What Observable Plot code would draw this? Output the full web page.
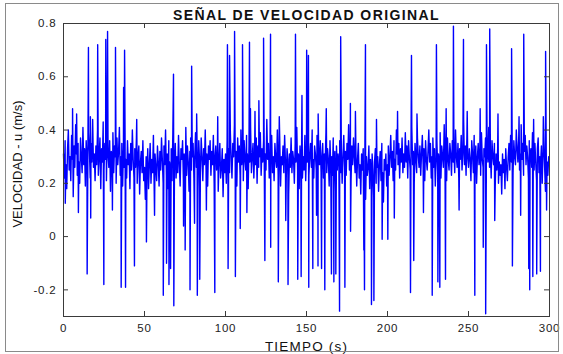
<!DOCTYPE html>
<html><head><meta charset="utf-8">
<script src="https://cdn.jsdelivr.net/npm/d3@7"></script>
<script src="https://cdn.jsdelivr.net/npm/@observablehq/plot@0.6"></script>
<style>
html,body{margin:0;padding:0;background:#fff;}
#wrap{position:relative;width:563px;height:354px;}
#border{position:absolute;left:5px;top:3px;width:552px;height:347px;border:1px solid #8a8a8a;pointer-events:none;}
</style></head>
<body><div id="wrap"><div id="border"></div></div>
<script>
const title = "SEÑAL DE VELOCIDAD ORIGINAL";
const xLabel = "TIEMPO (s)";
const yLabel = "VELOCIDAD - u (m/s)";
const xTicks = [0, 50, 100, 150, 200, 250, 300];
const yTicks = [-0.2, 0, 0.2, 0.4, 0.6, 0.8];
const dt = 0.5; // sample interval (s)

// base signal, one value every 0.5 s (rows of 10 s)
const baseValues = [
.31,.22,.36,.27,.18,.33,.40,.25,.30,.21,.38,.29,.15,.34,.26,.42,.31,.23,.35,.28,
.20,.37,.30,.24,.41,.27,.33,.19,.36,.29,.25,.39,.32,.22,.35,.28,.44,.26,.31,.21,
.34,.27,.40,.23,.30,.37,.18,.33,.28,.43,.25,.35,.29,.21,.38,.31,.26,.36,.17,.32,
.28,.39,.24,.34,.30,.20,.37,.27,.32,.41,.23,.30,.35,.19,.33,.26,.38,.29,.22,.36,
.27,.31,.18,.35,.25,.40,.29,.22,.33,.26,.37,.20,.30,.34,.16,.28,.32,.24,.36,.21,
.26,.14,.30,.22,.33,.18,.27,.35,.20,.29,.24,.38,.17,.31,.26,.21,.34,.28,.19,.32,
.25,.37,.29,.20,.34,.27,.40,.23,.31,.18,.36,.28,.24,.33,.21,.39,.30,.26,.35,.22,
.30,.24,.38,.27,.19,.33,.29,.36,.21,.31,.26,.41,.23,.34,.28,.17,.32,.37,.25,.30,
.35,.22,.29,.39,.26,.32,.18,.36,.28,.24,.37,.30,.21,.33,.27,.40,.25,.31,.19,.34,
.29,.36,.23,.32,.27,.38,.20,.30,.34,.25,.31,.17,.28,.35,.22,.26,.33,.15,.29,.24,
.31,.20,.36,.27,.33,.24,.39,.29,.22,.35,.30,.42,.26,.32,.19,.37,.28,.34,.23,.40,
.27,.33,.21,.36,.29,.25,.38,.31,.18,.34,.28,.41,.24,.30,.35,.22,.32,.27,.37,.20,
.34,.26,.30,.39,.23,.33,.28,.36,.20,.31,.25,.44,.29,.35,.22,.32,.27,.38,.24,.30,
.21,.35,.29,.26,.40,.23,.32,.36,.19,.30,.27,.34,.24,.38,.28,.22,.33,.29,.16,.31,
.26,.37,.24,.32,.29,.20,.35,.28,.41,.25,.31,.18,.34,.27,.36,.22,.30,.25,.38,.21,
.33,.28,.37,.23,.30,.35,.26,.40,.29,.22,.34,.31,.25,.38,.20,.32,.27,.36,.24,.29,
.35,.22,.31,.27,.39,.24,.33,.29,.19,.36,.26,.30,.23,.37,.28,.32,.17,.34,.25,.31,
.28,.36,.24,.33,.20,.30,.38,.26,.32,.23,.35,.29,.42,.25,.31,.21,.34,.27,.37,.30,
.24,.32,.19,.29,.35,.22,.27,.16,.31,.25,.33,.20,.28,.14,.30,.23,.26,.34,.18,.29,
.22,.31,.25,.15,.28,.33,.20,.26,.30,.17,.27,.32,.21,.35,.24,.13,.29,.25,.31,.19,
.27,.34,.23,.30,.38,.26,.32,.21,.36,.29,.25,.40,.31,.27,.35,.22,.33,.28,.37,.24,
.31,.26,.39,.28,.34,.22,.36,.30,.25,.33,.41,.27,.32,.20,.35,.29,.24,.37,.30,.26,
.34,.23,.31,.38,.27,.33,.21,.36,.29,.25,.32,.40,.28,.35,.22,.30,.37,.26,.33,.19,
.29,.36,.24,.31,.27,.39,.22,.34,.30,.26,.42,.28,.33,.21,.37,.29,.25,.35,.31,.23,
.36,.28,.32,.24,.40,.30,.26,.35,.22,.33,.29,.38,.25,.31,.44,.27,.34,.23,.37,.30,
.26,.33,.29,.21,.36,.31,.24,.38,.28,.34,.20,.30,.35,.27,.32,.23,.39,.29,.26,.33,
.30,.37,.24,.34,.28,.41,.26,.32,.22,.36,.30,.27,.35,.19,.31,.25,.33,.20,.28,.23,
.27,.16,.31,.24,.29,.18,.33,.26,.21,.30,.35,.25,.38,.28,.32,.24,.36,.30,.27,.40,
.33,.28,.37,.25,.31,.42,.29,.35,.23,.32,.38,.27,.34,.30,.22,.36,.29,.33,.26,.39,
.31,.25,.35,.28,.21,.33,.37,.24,.30,.27,.34,.20,.32,.36,.26,.17,.31,.28,.23,.30
];

// isolated spikes (time in s, velocity in m/s)
const spikeTimes = [
5.6,15.4,21.1,26.1,27.2,32.1,37.1,37.7,67.9,79.1,101.2,102.5,105.6,110.5,114.8,123.5,127.8,143.2,150.1,151.2,
171.1,186.4,214.8,230.2,240.7,246.9,261.1,263.1,276.6,284.1,297.6,
14.6,24.9,35.6,38.3,43.8,51.2,61.6,63.6,65.1,66.1,68.1,78.1,74.1,75.1,80.9,82.6,84.1,93.4,101.6,106.1,
109.1,124.3,127.9,132.6,138.6,144.6,146.7,151.4,153.9,157.1,159.3,161.3,165.4,166.9,168.1,170.4,173.7,177.2,185.4,185.8,
190.1,191.6,196.7,200.2,214.2,216.2,227.6,231.1,232.3,235.8,253.9,259.1,260.6,277.1,287.2,287.8,289.7,292.1,294.4,
8.1,16.6,45.2,82.2,95.2,115.4,118.2,120.6,133.2,147.2,157.2,162.2,177.1,180.2,193.2,206.2,218.2,236.2,249.2,257.2,
268.2,281.2,290.2,296.2,
1.1,9.2,16.8,30.2,56.2,88.2,113.2,137.2,156.2,204.2,222.2,244.2,266.2,282.2,298.2
];
const spikeValues = [
.48,.71,.72,.74,.77,.71,.56,.70,.61,.64,.72,.68,.77,.72,.73,.745,.76,.76,.70,.68,
.75,.72,.68,.72,.79,.74,.72,.78,.705,.76,.695,
-.14,-.18,-.19,-.19,-.11,-.02,-.22,-.10,-.18,-.12,-.26,-.20,.04,-.05,.05,-.22,-.16,-.21,-.12,-.15,
.03,-.09,-.04,-.17,-.18,-.16,-.15,-.19,-.12,-.11,-.12,-.20,-.14,-.17,-.14,-.28,-.19,.02,-.05,-.20,
-.255,-.24,-.01,-.01,-.21,-.09,-.22,-.17,-.19,-.16,-.22,-.04,-.29,-.11,-.12,-.20,-.15,-.14,-.13,
.46,.45,.44,.46,.45,.48,.47,.51,.45,.53,.46,.48,.50,.47,.44,.47,.46,.48,.47,.48,
.46,.45,.44,.45,
.125,.09,.07,.10,.08,.10,.09,.06,.08,.07,.09,.10,.06,.08,.10
];

const signal = baseValues.map((v, i) => ({t: i * dt, v}))
  .concat(spikeTimes.map((t, i) => ({t, v: spikeValues[i]})))
  .sort((a, b) => a.t - b.t);

const font = "'Liberation Sans', Arial, Helvetica, sans-serif";
const chart = Plot.plot({
  width: 563, height: 354,
  marginLeft: 63, marginRight: 14, marginTop: 23, marginBottom: 38,
  style: {fontFamily: font, fontSize: "12px", color: "#222", background: "transparent"},
  x: {domain: [0, 300]},
  y: {domain: [-0.3, 0.8]},
  marks: [
    Plot.line(signal, {x: "t", y: "v", stroke: "#0000ff", strokeWidth: 1.4}),
    Plot.frame({stroke: "#3a3a3a", strokeWidth: 1}),
    Plot.ruleX(xTicks, {stroke: "#3a3a3a", insetTop: 288}),
    Plot.ruleX(xTicks, {stroke: "#3a3a3a", insetBottom: 288}),
    Plot.ruleY(yTicks, {stroke: "#3a3a3a", insetRight: 481}),
    Plot.ruleY(yTicks, {stroke: "#3a3a3a", insetLeft: 481}),
    Plot.axisX({ticks: xTicks, tickSize: 0, tickPadding: 7, label: null, tickFormat: d => String(d), fontSize: 11.5}),
    Plot.axisY({ticks: yTicks, tickSize: 0, tickPadding: 7, label: null, tickFormat: d => String(d), fontSize: 11.5}),
    Plot.text([title], {frameAnchor: "top", lineAnchor: "middle", dy: -8, fontWeight: "bold", fontSize: 14, fill: "#111"}),
    Plot.text([xLabel], {frameAnchor: "bottom", lineAnchor: "middle", dy: 30, fontSize: 13.5, fill: "#111"}),
    Plot.text([yLabel], {frameAnchor: "left", textAnchor: "middle", lineAnchor: "middle", dx: -46, dy: -6, rotate: -90, fontSize: 13, fill: "#111"})
  ]
});
// the reference image is slightly stretched horizontally: widen horizontal text
d3.select(chart).selectAll("text").each(function() {
  const s = this.textContent;
  let ls = "0.8px";
  if (s === title) ls = "1.4px";
  else if (s === xLabel) ls = "1.2px";
  else if (s === yLabel) ls = "0px";
  this.style.letterSpacing = ls;
});
document.getElementById("wrap").prepend(chart);
</script>
</body></html>
